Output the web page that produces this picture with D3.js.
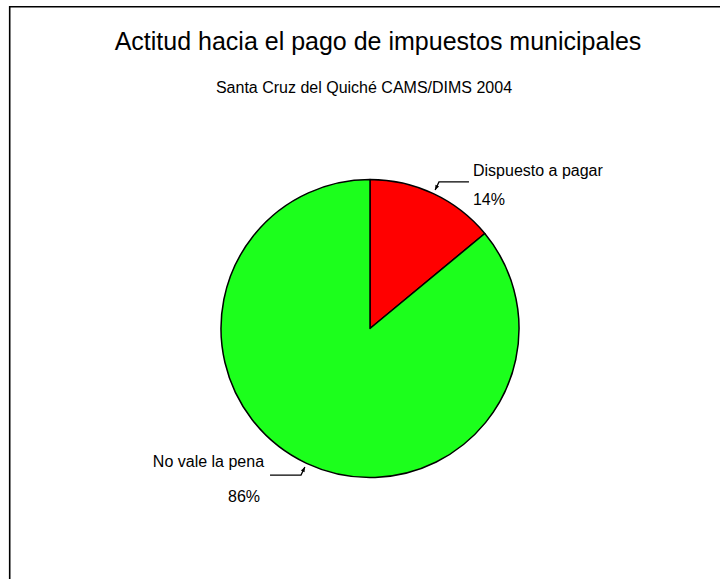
<!DOCTYPE html>
<html>
<head>
<meta charset="utf-8">
<script src="https://cdn.jsdelivr.net/npm/d3@7"></script>
<style>
  html, body { margin: 0; padding: 0; background: #fff; }
  svg { display: block; }
  text { font-family: "Liberation Sans", Arial, Helvetica, sans-serif; fill: #000; }
</style>
</head>
<body>
<svg id="chart" width="720" height="579"></svg>
<script>
const titleText = "Actitud hacia el pago de impuestos municipales";
const subtitleText = "Santa Cruz del Quiché CAMS/DIMS 2004";
const categories = ["Dispuesto a pagar", "No vale la pena"];
const values = [14, 86];
const pctLabels = ["14%", "86%"];
const colors = ["#ff0000", "#1cff1c"];

const W = 720, H = 579;
const cx = 370, cy = 328.5, R = 149;

const svg = d3.select("#chart");

// frame (top and left edges visible)
svg.append("path")
  .attr("d", `M9.7,${H} V6.7 H${W}`)
  .attr("fill", "none").attr("stroke", "#000").attr("stroke-width", 1.6);

svg.append("text").attr("x", 378).attr("y", 50)
  .attr("text-anchor", "middle").attr("font-size", 25).text(titleText);
svg.append("text").attr("x", 364).attr("y", 93)
  .attr("text-anchor", "middle").attr("font-size", 16).text(subtitleText);

const data = categories.map((c, i) => ({ cat: c, value: values[i], pct: pctLabels[i], color: colors[i] }));

const pie = d3.pie().sort(null).value(d => d.value);
const arcs = pie(data);
const arc = d3.arc().innerRadius(0).outerRadius(R);

const g = svg.append("g").attr("transform", `translate(${cx},${cy})`);

g.selectAll("path.slice").data(arcs).enter().append("path")
  .attr("class", "slice")
  .attr("d", arc)
  .attr("fill", d => d.data.color)
  .attr("stroke", "#000").attr("stroke-width", 1.5)
  .attr("stroke-linejoin", "round");

// leaders and labels
const polar = (a, r) => [r * Math.sin(a), -r * Math.cos(a)];
arcs.forEach(d => {
  const mid = (d.startAngle + d.endAngle) / 2;
  const right = Math.sin(mid) >= 0;
  const p0 = polar(mid, R + 4);
  const p1 = polar(mid, R + 13);
  const p2 = [p1[0] + (right ? 30 : -31), p1[1]];
  g.append("path")
    .attr("d", `M${p2[0]},${p2[1]} L${p1[0]},${p1[1]} L${p0[0]},${p0[1]}`)
    .attr("fill", "none").attr("stroke", "#000").attr("stroke-width", 1.3);
  // small arrow head
  const dx = p0[0] - p1[0], dy = p0[1] - p1[1];
  const len = Math.hypot(dx, dy), ux = dx / len, uy = dy / len;
  const hl = 5, hw = 2;
  g.append("path")
    .attr("d", `M${p0[0]},${p0[1]} L${p0[0] - ux * hl - uy * hw},${p0[1] - uy * hl + ux * hw} L${p0[0] - ux * hl + uy * hw},${p0[1] - uy * hl - ux * hw} Z`)
    .attr("fill", "#000");
  const tx = right ? p2[0] + 4 : p2[0] - 6;
  const anchor = right ? "start" : "end";
  g.append("text").attr("x", tx).attr("y", p2[1] + (right ? -6 : -8))
    .attr("text-anchor", anchor).attr("font-size", 16).text(d.data.cat);
  g.append("text").attr("x", right ? tx : tx - 4).attr("y", p2[1] + (right ? 23 : 27))
    .attr("text-anchor", anchor).attr("font-size", 16).text(d.data.pct);
});
</script>
</body>
</html>
